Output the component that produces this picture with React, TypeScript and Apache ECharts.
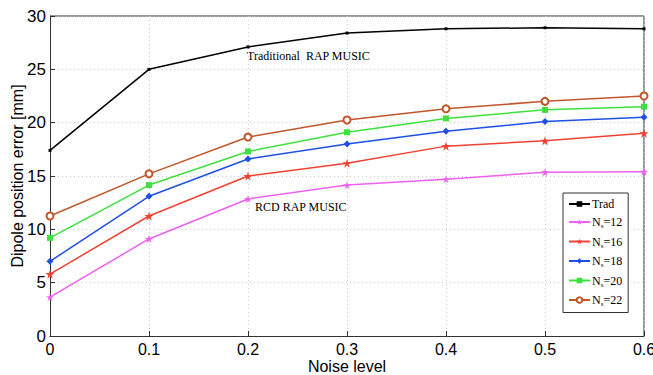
import React, { useEffect, useRef } from "react";
import * as echarts from "echarts";

const noiseLevels = [0, 0.1, 0.2, 0.3, 0.4, 0.5, 0.6];
const trad = [17.4, 25.0, 27.1, 28.4, 28.8, 28.9, 28.8];
const ns12 = [3.65, 9.1, 12.85, 14.15, 14.7, 15.35, 15.4];
const ns16 = [5.8, 11.25, 15.0, 16.2, 17.8, 18.3, 19.0];
const ns18 = [7.0, 13.1, 16.6, 18.0, 19.2, 20.1, 20.5];
const ns20 = [9.2, 14.15, 17.3, 19.1, 20.4, 21.2, 21.5];
const ns22 = [11.25, 15.2, 18.65, 20.25, 21.3, 22.0, 22.5];
const seriesNames = ["Trad", "Ns=12", "Ns=16", "Ns=18", "Ns=20", "Ns=22"];

const STAR = "path://M50,0 L61,35 L98,35 L68,57 L79,91 L50,70 L21,91 L32,57 L2,35 L39,35 Z";

export default function App() {
  const ref = useRef<HTMLDivElement>(null);
  useEffect(() => {
    const chart = echarts.init(ref.current!, undefined, { renderer: "svg" });
    const mk = (name: string, data: number[], color: string, symbol: string, size: number) => ({
      name,
      type: "line",
      data: noiseLevels.map((x, i) => [x, data[i]]),
      symbol,
      symbolSize: size,
      showSymbol: true,
      lineStyle: { color, width: 1.5 },
      itemStyle: { color, borderWidth: 1.2 },
      emphasis: { disabled: true },
    });
    chart.setOption({
      animation: false,
      backgroundColor: "#fff",
      grid: { left: 50, right: 9, top: 16, bottom: 39, containLabel: false, outerBoundsMode: "none" },
      xAxis: {
        type: "value",
        min: 0,
        max: 0.6,
        interval: 0.1,
        name: "Noise level",
        nameLocation: "middle",
        nameGap: 22,
        nameMoveOverlap: false,
        nameTextStyle: { fontFamily: "Liberation Sans, Arial", fontSize: 16, color: "#000" },
        axisLine: { show: true, lineStyle: { color: "#333", width: 1 } },
        axisTick: { show: true, inside: true, length: 5, lineStyle: { color: "#333" } },
        axisLabel: {
          fontFamily: "Liberation Sans, Arial",
          fontSize: 16,
          color: "#000",
          margin: 5,
          formatter: (v: number) => (Math.round(v * 10) / 10).toString(),
        },
        splitLine: { show: true, lineStyle: { color: "#ccc", type: [1, 3], width: 1 } },
      },
      yAxis: {
        type: "value",
        min: 0,
        max: 30,
        interval: 5,
        name: "Dipole position error [mm]",
        nameLocation: "middle",
        nameGap: 25,
        nameMoveOverlap: false,
        nameTextStyle: { fontFamily: "Liberation Sans, Arial", fontSize: 16, color: "#000" },
        axisLine: { show: true, lineStyle: { color: "#333", width: 1 } },
        axisTick: { show: true, inside: true, length: 5, lineStyle: { color: "#333" } },
        axisLabel: { fontFamily: "Liberation Sans, Arial", fontSize: 17, color: "#000", margin: 4 },
        splitLine: { show: true, lineStyle: { color: "#ccc", type: [1, 3], width: 1 } },
      },
      legend: {
        show: true,
        orient: "vertical",
        left: 563,
        top: 193,
        backgroundColor: "#fff",
        borderColor: "#333",
        borderWidth: 1,
        padding: [5, 6, 5, 5],
        itemGap: 6,
        itemWidth: 21,
        itemHeight: 7,
        data: seriesNames,
        textStyle: {
          fontFamily: "Liberation Serif, Times New Roman, serif",
          fontSize: 12,
          color: "#000",
          padding: [0, 0, 0, -3],
          rich: {
            n: { fontFamily: "Liberation Serif, serif", fontSize: 12, color: "#000" },
            s: { fontFamily: "Liberation Serif, serif", fontSize: 7, color: "#000", padding: [8, 0, 0, 0] },
          },
        },
        formatter: (name: string) => {
          if (name === "Trad") return "{n|Trad}";
          return "{n|N}{s|s}{n|" + name.slice(2) + "}";
        },
      },
      series: [
        mk("Trad", trad, "#000000", "rect", 3),
        mk("Ns=12", ns12, "#f060f0", STAR, 8),
        mk("Ns=16", ns16, "#f04232", STAR, 9),
        mk("Ns=18", ns18, "#1e50e6", "diamond", 7),
        mk("Ns=20", ns20, "#3ee03e", "rect", 6),
        mk("Ns=22", ns22, "#c0562a", "emptyCircle", 7),
      ],
      graphic: [
        {
          type: "text",
          left: 247,
          top: 50,
          style: { text: "Traditional  RAP MUSIC", font: "12px 'Liberation Serif', serif", fill: "#000" },
        },
        {
          type: "text",
          left: 255,
          top: 201,
          style: { text: "RCD RAP MUSIC", font: "12px 'Liberation Serif', serif", fill: "#000" },
        },
        {
          type: "line",
          shape: { x1: 50, y1: 16, x2: 644, y2: 16 },
          style: { stroke: "#333", lineWidth: 1 },
        },
        {
          type: "line",
          shape: { x1: 644, y1: 16, x2: 644, y2: 336 },
          style: { stroke: "#333", lineWidth: 1 },
        },
      ],
    });
    return () => chart.dispose();
  }, []);
  return <div ref={ref} style={{ width: 653, height: 375, position: "absolute", left: 0, top: 0 }} />;
}
